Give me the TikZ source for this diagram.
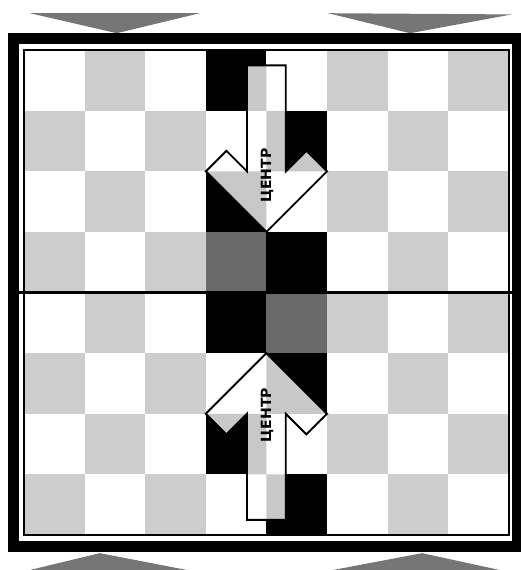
\documentclass[tikz,border=0pt]{standalone}
\usepackage{xcolor}
\usepackage{fontspec}
\usepackage{tikz}
\newfontfamily\centrefont{DejaVu Sans}
\definecolor{boardlight}{RGB}{205, 205, 205}
\definecolor{boardcentre}{RGB}{105, 105, 105}
\definecolor{arrowlight}{RGB}{200, 200, 200}
\definecolor{markgray}{RGB}{118, 118, 118}

\begin{document}
\begin{tikzpicture}[line join=miter,
    word/.style={rotate=90, inner sep=0pt, font=\centrefont\bfseries\fontsize{6.6}{7}\selectfont}]
    \useasboundingbox (-0.396, -0.578) rectangle (8.201, 8.828);
    \fill[white] (-0.396, -0.578) rectangle (8.201, 8.828);

    % Edge markers
    \fill[markgray] (0.10, 8.61) -- (2.90, 8.61) -- (1.53, 8.28) -- cycle;
    \fill[markgray] (5.02, 8.61) -- (8.05, 8.59) -- (6.37, 8.28) -- cycle;
    \fill[markgray] (0.10, -0.578) -- (2.69, -0.578) -- (1.25, -0.30) -- cycle;
    \fill[markgray] (5.10, -0.578) -- (7.85, -0.578) -- (6.57, -0.30) -- cycle;

    % Squares
    \foreach \c in {0,...,7}
      \foreach \r in {0,...,7}
        {\pgfmathtruncatemacro{\parity}{mod(\c+\r,2)}
         \ifnum\parity=0 \fill[boardlight] (\c,\r) rectangle ++(1,1); \fi}

    % Centre files
    \foreach \c/\r in {3/1, 3/3, 3/5, 3/7, 4/0, 4/2, 4/4, 4/6}
      \fill[black] (\c,\r) rectangle ++(1,1);
    \fill[boardcentre] (3,4) rectangle ++(1,1);
    \fill[boardcentre] (4,3) rectangle ++(1,1);

    % Frame and middle line
    \draw[line width=0.18cm] (-0.17, -0.19) rectangle (8.14, 8.2);
    \draw[line width=0.9pt] (0,0) rectangle (8,8);
    \draw[line width=1.4pt] (-0.17, 4) -- (8.14, 4);

    % Top arrow
    \begin{scope}
      \clip (4,5) -- (3,6) -- (3.34,6.34) -- (3.68,6) -- (3.68,7.75) -- (4.32,7.75)
            -- (4.32,6) -- (4.66,6.34) -- (5,6) -- cycle;
      \fill[white] (3,5) rectangle (5,8);
      \fill[arrowlight] (3,7) rectangle ++(1,1) (4,6) rectangle ++(1,1) (3,5) rectangle ++(1,1);
    \end{scope}
    \draw[line width=0.9pt] (4,5) -- (3,6) -- (3.34,6.34) -- (3.68,6) -- (3.68,7.75) -- (4.32,7.75)
          -- (4.32,6) -- (4.66,6.34) -- (5,6) -- cycle;

    % Bottom arrow
    \begin{scope}
      \clip (4,3) -- (3,2) -- (3.34,1.66) -- (3.68,2) -- (3.68,0.25) -- (4.32,0.25)
            -- (4.32,2) -- (4.66,1.66) -- (5,2) -- cycle;
      \fill[white] (3,0) rectangle (5,3);
      \fill[arrowlight] (3,1) rectangle ++(1,1) (4,2) rectangle ++(1,1) (4,0) rectangle ++(1,1);
    \end{scope}
    \draw[line width=0.9pt] (4,3) -- (3,2) -- (3.34,1.66) -- (3.68,2) -- (3.68,0.25) -- (4.32,0.25)
          -- (4.32,2) -- (4.66,1.66) -- (5,2) -- cycle;

    % Labels
    \node[word] (topword) at (4.01, 5.93) {ЦЕНТР};
    \node[word] (bottomword) at (4.01, 1.98) {ЦЕНТР};
\end{tikzpicture}
\end{document}
